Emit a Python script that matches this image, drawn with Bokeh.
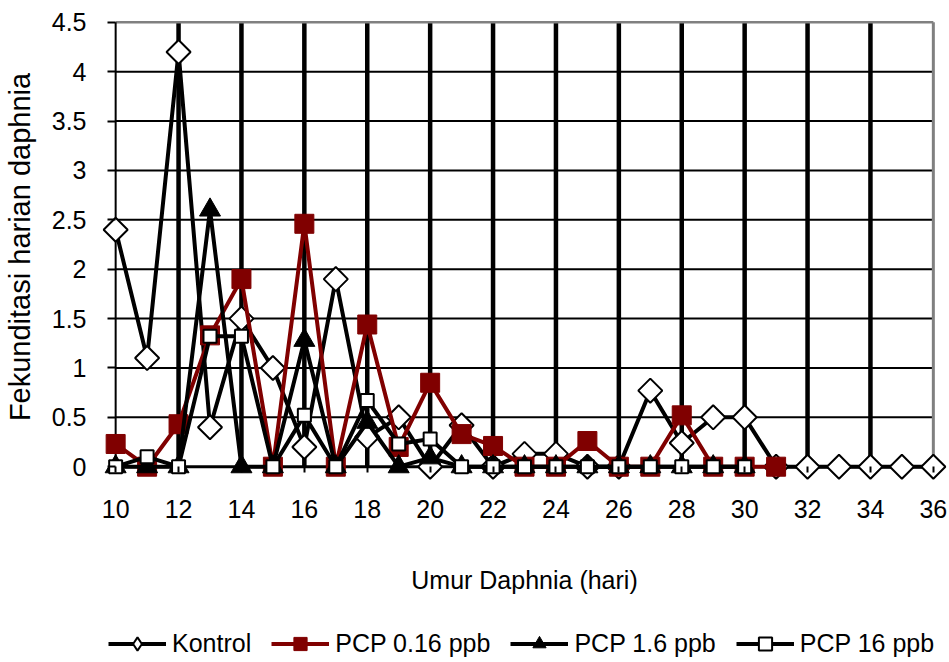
import math
from bokeh.plotting import figure
from bokeh.layouts import column
from bokeh.models import (LinearAxis, FixedTicker, NumeralTickFormatter, Legend,
                          LegendItem, Range1d)
from bokeh.embed import file_html
from bokeh.resources import INLINE

# ---- data ----
days_kontrol = list(range(10, 37))
kontrol = [2.4, 1.1, 4.2, 0.4, 1.5, 1.0, 0.2, 1.9, 0.3, 0.5, 0.0, 0.42, 0.0,
           0.13, 0.13, 0.0, 0.0, 0.77, 0.24, 0.5, 0.5, 0.0, 0.0, 0.0, 0.0, 0.0, 0.0]

days_016 = list(range(10, 32))
pcp_016 = [0.23, 0.0, 0.43, 1.33, 1.9, 0.0, 2.46, 0.0, 1.44, 0.2, 0.85, 0.33,
           0.21, 0.0, 0.0, 0.26, 0.0, 0.0, 0.52, 0.0, 0.0, 0.0]

days_1_6 = list(range(10, 31))
pcp_1_6 = [0.0, 0.0, 0.0, 2.6, 0.0, 0.0, 1.28, 0.0, 0.45, 0.0, 0.09, 0.0, 0.0,
           0.0, 0.0, 0.0, 0.0, 0.0, 0.0, 0.0, 0.0]

days_16 = list(range(10, 31))
pcp_16 = [0.0, 0.1, 0.0, 1.32, 1.32, 0.0, 0.52, 0.0, 0.67, 0.23, 0.28, 0.0, 0.0,
          0.0, 0.0, 0.0, 0.0, 0.0, 0.0, 0.0, 0.0]

series_names = ["Kontrol", "PCP 0.16 ppb", "PCP 1.6 ppb", "PCP 16 ppb"]
x_ticks = list(range(10, 37, 2))
y_ticks = [0, 0.5, 1, 1.5, 2, 2.5, 3, 3.5, 4, 4.5]
x_title = "Umur Daphnia (hari)"
y_title = "Fekunditasi harian daphnia"

FONT = "Liberation Sans"
RED = "#800000"

# series styling: (days, values, line colour, marker, size, fill, outline, outline width)
series = [
    (days_kontrol, kontrol, "black", "diamond", 17, "white", "black", 2),
    (days_016, pcp_016, RED, "square", 19, RED, RED, 1),
    (days_1_6, pcp_1_6, "black", "triangle", 21, "black", "black", 1),
    (days_16, pcp_16, "black", "square", 13, "white", "black", 2),
]

# ---------------- main chart ----------------
p = figure(width=949, height=618, output_backend="svg", toolbar_location=None,
           x_range=Range1d(9.55, 36.45), y_range=Range1d(-0.15, 4.6),
           x_axis_location=None, y_axis_location=None,
           min_border_left=100, min_border_right=2, min_border_top=12,
           min_border_bottom=137)
p.outline_line_color = None
p.grid.visible = False
p.background_fill_color = "white"
p.border_fill_color = "white"

x0, x1 = x_ticks[0], x_ticks[-1]
y0, y1 = y_ticks[0], y_ticks[-1]

# grid lines (within the axes box only)
p.segment(x0=[x0] * (len(y_ticks) - 2), x1=[x1] * (len(y_ticks) - 2),
          y0=y_ticks[1:-1], y1=y_ticks[1:-1], line_color="black", line_width=2)
p.segment(x0=x_ticks[1:-1], x1=x_ticks[1:-1], y0=[y0] * (len(x_ticks) - 2),
          y1=[y1] * (len(x_ticks) - 2), line_color="black", line_width=4.5)
# top / right border
p.segment(x0=[x0], x1=[x1], y0=[y1], y1=[y1], line_color="#808080", line_width=2.5)
p.segment(x0=[x1], x1=[x1], y0=[y0], y1=[y1], line_color="#808080", line_width=3)
# axis lines at x=10 and y=0
p.segment(x0=[x0], x1=[x0], y0=[y0], y1=[y1], line_color="black", line_width=2)
p.segment(x0=[x0], x1=[x1], y0=[y0], y1=[y0], line_color="black", line_width=3)

xaxis = LinearAxis(bounds=(x0, x1), ticker=FixedTicker(ticks=x_ticks),
                   axis_line_color=None,
                   major_tick_in=15, major_tick_out=-9, major_tick_line_width=2,
                   major_tick_line_color="black",
                   minor_tick_line_color=None,
                   major_label_text_font=FONT, major_label_text_font_size="25px",
                   major_label_text_color="black",
                   major_label_standoff=18,
                   axis_label=x_title, axis_label_text_font=FONT,
                   axis_label_text_color="black",
                   axis_label_text_font_size="25px", axis_label_text_font_style="normal",
                   axis_label_standoff=45)
p.add_layout(xaxis, "below")

yaxis = LinearAxis(bounds=(y0, y1), ticker=FixedTicker(ticks=y_ticks),
                   formatter=NumeralTickFormatter(format="0.[0]"),
                   axis_line_color=None,
                   major_tick_in=14, major_tick_out=-6, major_tick_line_width=2,
                   major_tick_line_color="black",
                   minor_tick_line_color=None,
                   major_label_text_font=FONT, major_label_text_font_size="25px",
                   major_label_text_color="black",
                   major_label_standoff=15,
                   axis_label=y_title, axis_label_text_font=FONT,
                   axis_label_text_color="black",
                   axis_label_text_font_size="29px", axis_label_text_font_style="normal",
                   axis_label_standoff=13)
p.add_layout(yaxis, "left")

for xs, ys, lc, mk, sz, fc, oc, ow in series:
    p.line(xs, ys, line_color=lc, line_width=4)
    if mk == "diamond":
        p.scatter(xs, ys, marker="square", angle=math.pi / 4, size=sz,
                  fill_color=fc, line_color=oc, line_width=ow)
    else:
        p.scatter(xs, ys, marker=mk, size=sz, fill_color=fc, line_color=oc,
                  line_width=ow)

# ---------------- legend strip ----------------
lf = figure(width=949, height=44, output_backend="svg", toolbar_location=None,
            x_axis_location=None, y_axis_location=None, min_border=0,
            x_range=Range1d(0, 1), y_range=Range1d(0, 1))
lf.outline_line_color = None
lf.grid.visible = False
lf.background_fill_color = "white"
lf.border_fill_color = "white"

items = []
for name, (xs, ys, lc, mk, sz, fc, oc, ow) in zip(series_names, series):
    lr = lf.line(xs, ys, line_color=lc, line_width=4, visible=False)
    mr = lf.scatter(xs, ys, marker=mk, size=sz, fill_color=fc, line_color=oc,
                    line_width=ow, visible=False)
    items.append(LegendItem(label=name, renderers=[lr, mr]))

legend = Legend(items=items, orientation="horizontal", location=(7, 2),
                glyph_width=58, glyph_height=33, label_standoff=6, spacing=20,
                padding=0, margin=0, border_line_color=None,
                background_fill_alpha=0,
                label_text_font=FONT, label_text_font_size="25px",
                label_text_color="black")
lf.add_layout(legend, "center")

layout = column(p, lf, spacing=0)
open("out.html", "w").write(file_html(layout, INLINE))
